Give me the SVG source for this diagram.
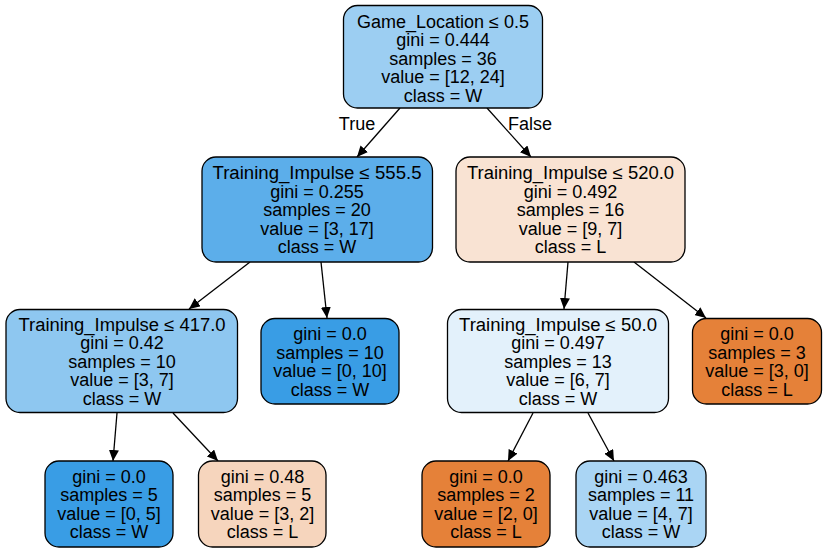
<svg xmlns="http://www.w3.org/2000/svg" width="827" height="552" viewBox="0 0 827 552">
<defs>
<marker id="arr" markerUnits="userSpaceOnUse" markerWidth="12" markerHeight="10" refX="11" refY="5" orient="auto">
<path d="M0,0 L11,5 L0,10 Z" fill="#000"/>
</marker>
<style>
.n rect{stroke:#000;stroke-width:1.3}
text{font-family:"Liberation Sans",Arial,Helvetica,sans-serif;font-size:18px;text-anchor:middle;fill:#000}
.e line{stroke:#000;stroke-width:1.3;marker-end:url(#arr)}
</style>
</defs>
<rect width="827" height="552" fill="#fff"/>
<g id="edges" class="e">
<line x1="400" y1="108" x2="357" y2="157"/>
<line x1="487" y1="108" x2="531" y2="157"/>
<line x1="250" y1="262" x2="189" y2="309"/>
<line x1="321" y1="262" x2="327" y2="318"/>
<line x1="568" y1="262" x2="564" y2="309"/>
<line x1="634" y1="262" x2="706" y2="318"/>
<line x1="117" y1="413" x2="113" y2="461"/>
<line x1="173" y1="413" x2="218" y2="461"/>
<line x1="533" y1="413" x2="508" y2="461"/>
<line x1="588" y1="413" x2="614" y2="461"/>
<text x="357" y="130">True</text>
<text x="530" y="130">False</text>
</g>
<g id="n0" class="n">
<rect x="343.5" y="5.5" width="199" height="102.5" rx="14" fill="#9ccef2"/>
<text x="443" y="27.5">Game_Location ≤ 0.5</text>
<text x="443" y="46">gini = 0.444</text>
<text x="443" y="64.5">samples = 36</text>
<text x="443" y="83">value = [12, 24]</text>
<text x="443" y="101.5">class = W</text>
</g>
<g id="n1" class="n">
<rect x="202" y="157" width="230.5" height="105" rx="14" fill="#5caeea"/>
<text x="317" y="179" textLength="209" lengthAdjust="spacingAndGlyphs">Training_Impulse ≤ 555.5</text>
<text x="317" y="197.5">gini = 0.255</text>
<text x="317" y="216">samples = 20</text>
<text x="317" y="234.5">value = [3, 17]</text>
<text x="317" y="253">class = W</text>
</g>
<g id="n2" class="n">
<rect x="456" y="157" width="229" height="105" rx="14" fill="#f9e3d3"/>
<text x="570.5" y="179" textLength="207" lengthAdjust="spacingAndGlyphs">Training_Impulse ≤ 520.0</text>
<text x="570.5" y="197.5">gini = 0.492</text>
<text x="570.5" y="216">samples = 16</text>
<text x="570.5" y="234.5">value = [9, 7]</text>
<text x="570.5" y="253">class = L</text>
</g>
<g id="n3" class="n">
<rect x="6" y="309.5" width="231.5" height="103" rx="14" fill="#8ec7f0"/>
<text x="122" y="330.5" textLength="207" lengthAdjust="spacingAndGlyphs">Training_Impulse ≤ 417.0</text>
<text x="122" y="349">gini = 0.42</text>
<text x="122" y="367.5">samples = 10</text>
<text x="122" y="386">value = [3, 7]</text>
<text x="122" y="404.5">class = W</text>
</g>
<g id="n4" class="n">
<rect x="261" y="318.5" width="138" height="85.5" rx="14" fill="#399de5"/>
<text x="330" y="340">gini = 0.0</text>
<text x="330" y="358.5">samples = 10</text>
<text x="330" y="377">value = [0, 10]</text>
<text x="330" y="395.5">class = W</text>
</g>
<g id="n5" class="n">
<rect x="447.5" y="309.5" width="221" height="103" rx="14" fill="#e3f1fb"/>
<text x="558" y="330.5" textLength="198" lengthAdjust="spacingAndGlyphs">Training_Impulse ≤ 50.0</text>
<text x="558" y="349">gini = 0.497</text>
<text x="558" y="367.5">samples = 13</text>
<text x="558" y="386">value = [6, 7]</text>
<text x="558" y="404.5">class = W</text>
</g>
<g id="n6" class="n">
<rect x="692.5" y="318.5" width="129" height="85.5" rx="14" fill="#e58139"/>
<text x="757" y="340">gini = 0.0</text>
<text x="757" y="358.5">samples = 3</text>
<text x="757" y="377">value = [3, 0]</text>
<text x="757" y="395.5">class = L</text>
</g>
<g id="n7" class="n">
<rect x="45" y="461" width="128" height="86" rx="14" fill="#399de5"/>
<text x="109" y="482.75">gini = 0.0</text>
<text x="109" y="501.25">samples = 5</text>
<text x="109" y="519.75">value = [0, 5]</text>
<text x="109" y="538.25">class = W</text>
</g>
<g id="n8" class="n">
<rect x="198.5" y="461" width="127.5" height="86" rx="14" fill="#f6d5bd"/>
<text x="262.5" y="482.75">gini = 0.48</text>
<text x="262.5" y="501.25">samples = 5</text>
<text x="262.5" y="519.75">value = [3, 2]</text>
<text x="262.5" y="538.25">class = L</text>
</g>
<g id="n9" class="n">
<rect x="422" y="461" width="128" height="86" rx="14" fill="#e58139"/>
<text x="486" y="482.75">gini = 0.0</text>
<text x="486" y="501.25">samples = 2</text>
<text x="486" y="519.75">value = [2, 0]</text>
<text x="486" y="538.25">class = L</text>
</g>
<g id="n10" class="n">
<rect x="576" y="461" width="130" height="86" rx="14" fill="#aad5f4"/>
<text x="641" y="482.75">gini = 0.463</text>
<text x="641" y="501.25">samples = 11</text>
<text x="641" y="519.75">value = [4, 7]</text>
<text x="641" y="538.25">class = W</text>
</g>
</svg>
